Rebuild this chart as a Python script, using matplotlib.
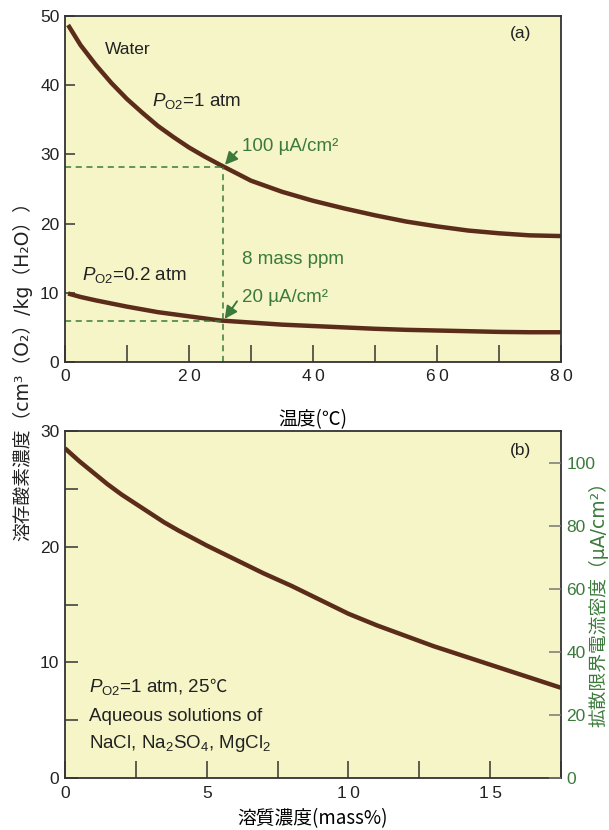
"""
    plot.py
        -- dissolved oxygen in water vs temperature (a) and vs solute content (b)
"""
import matplotlib

matplotlib.use("Agg")
import matplotlib.pyplot as plt
from matplotlib.ticker import MultipleLocator

# (a) oxygen solubility in water, cm3(O2)/kg(H2O)
temp_c = [0.5, 2.5, 5, 7.5, 10, 12.5, 15, 17.5, 20, 22.5, 25, 30, 35, 40,
          45, 50, 55, 60, 65, 70, 75, 80]
o2_1atm = [48.7, 45.8, 42.9, 40.3, 38.0, 36.0, 34.1, 32.5, 31.0, 29.7, 28.5,
           26.2, 24.6, 23.3, 22.2, 21.2, 20.3, 19.6, 19.0, 18.6, 18.3, 18.2]
o2_02atm = [9.9, 9.4, 8.9, 8.45, 8.0, 7.6, 7.2, 6.9, 6.6, 6.3, 6.0, 5.7, 5.4,
            5.2, 5.0, 4.8, 4.65, 4.55, 4.45, 4.35, 4.3, 4.3]

# 8 mass ppm guide at 25.5 C
guide_t = 25.5
guide_hi = 28.2
guide_lo = 5.9

# (b) 1 atm, 25 C, salt solutions
solute_pct = [0, 0.5, 1, 1.5, 2, 2.5, 3, 3.5, 4, 5, 6, 7, 8, 9, 10, 11, 12,
              13, 14, 15, 16, 17, 17.5]
o2_salt = [28.5, 27.4, 26.4, 25.4, 24.5, 23.7, 22.9, 22.1, 21.4, 20.1, 18.9,
           17.7, 16.6, 15.4, 14.2, 13.2, 12.3, 11.4, 10.6, 9.8, 9.0, 8.2, 7.8]

a_xticks = [0, 20, 40, 60, 80]
b_xticks = [0, 5, 10, 15]

BG = "#f5f5c8"
LINE = "#5b2c1a"
GREEN = "#3b7a3b"
EDGE = "#333333"
LATIN = ["Liberation Sans", "DejaVu Sans"]
JP = ["Noto Sans CJK JP", "DejaVu Sans"]
MIXED = ["DejaVu Sans", "Noto Sans CJK JP"]

plt.rcParams["font.family"] = LATIN
plt.rcParams["mathtext.fontset"] = "custom"
plt.rcParams["mathtext.rm"] = "Liberation Sans"
plt.rcParams["mathtext.it"] = "Liberation Sans:italic"
plt.rcParams["font.size"] = 12.5
plt.rcParams["text.color"] = "#222222"

fig = plt.figure(figsize=(6.09, 8.30), dpi=100)
ax1 = fig.add_axes([65 / 609, 1 - 362 / 830, 496 / 609, 346 / 830])
ax2 = fig.add_axes([65 / 609, 1 - 778 / 830, 496 / 609, 347 / 830])


def spaced(v):
    return "\u2009".join(str(v))


def style(ax):
    ax.set_facecolor(BG)
    for s in ax.spines.values():
        s.set_color(EDGE)
        s.set_linewidth(1.3)
    ax.tick_params(which="both", direction="in", color=EDGE, width=1.1,
                   labelsize=12.5, labelcolor="#222222")


PO2 = "$P_{\\mathrm{O2}}$"

# ---- (a)
style(ax1)
ax1.plot(temp_c, o2_1atm, color=LINE, lw=3.2, solid_capstyle="butt")
ax1.plot(temp_c, o2_02atm, color=LINE, lw=3.2, solid_capstyle="butt")
ax1.plot([0, guide_t], [guide_hi, guide_hi], color=GREEN, lw=1.1, ls=(0, (4, 3)))
ax1.plot([0, guide_t], [guide_lo, guide_lo], color=GREEN, lw=1.1, ls=(0, (4, 3)))
ax1.plot([guide_t, guide_t], [0, guide_hi], color=GREEN, lw=1.1, ls=(0, (4, 3)))
ax1.set_xlim(0, 80)
ax1.set_ylim(0, 50)
ax1.set_xticks(a_xticks)
ax1.set_xticklabels([spaced(v) for v in a_xticks])
ax1.xaxis.set_minor_locator(MultipleLocator(10))
ax1.tick_params(axis="x", which="both", length=12, pad=5)
ax1.tick_params(axis="y", length=7, pad=4)
ax1.set_xlabel("温度(℃)", family=JP, fontsize=13.5, labelpad=18)

ax1.text(6.4, 45.1, "Water", va="center", fontsize=12.5)
ax1.text(14.0, 37.7, PO2 + "=1 atm", va="center", fontsize=13.5)
ax1.text(2.8, 12.6, PO2 + "=0.2 atm", va="center", fontsize=13.5)
ax1.text(73.4, 47.4, "(a)", ha="center", va="center", fontsize=12.5)
ax1.text(28.6, 31.2, "100 µA/cm²", color=GREEN, va="center", fontsize=13.5)
ax1.text(28.5, 14.8, "8 mass ppm", color=GREEN, va="center", fontsize=13.5)
ax1.text(28.5, 9.3, "20 µA/cm²", color=GREEN, va="center", fontsize=13.5)
arrow = dict(arrowstyle="-|>,head_length=0.6,head_width=0.3", color=GREEN, lw=1.4)
ax1.annotate("", xy=(guide_t, guide_hi), xytext=(28.0, 30.7), arrowprops=arrow)
ax1.annotate("", xy=(guide_t, guide_lo), xytext=(28.0, 9.1), arrowprops=arrow)

# ---- (b)
style(ax2)
ax2.plot(solute_pct, o2_salt, color=LINE, lw=3.2, solid_capstyle="butt")
ax2.set_xlim(0, 17.5)
ax2.set_ylim(0, 30)
ax2.set_xticks(b_xticks)
ax2.set_xticklabels([spaced(v) for v in b_xticks])
ax2.xaxis.set_minor_locator(MultipleLocator(2.5))
ax2.yaxis.set_major_locator(MultipleLocator(10))
ax2.yaxis.set_minor_locator(MultipleLocator(5))
ax2.tick_params(axis="x", which="both", length=12, pad=6)
ax2.tick_params(axis="y", which="both", length=9, pad=4)
ax2.set_xlabel("溶質濃度(mass%)", family=JP, fontsize=13.5, labelpad=5)

ax2.text(16.06, 28.35, "(b)", ha="center", va="center", fontsize=12.5)
cond = ax2.text(0.83, 7.9, PO2 + "=1 atm, 25", va="center", fontsize=13.5)
ax2.annotate("℃", xy=(1, 0.5), xycoords=cond, va="center", ha="left",
             fontsize=12.5, family=JP)
ax2.text(0.83, 5.35, "Aqueous solutions of", va="center", fontsize=13.5)
ax2.text(0.83, 3.0, "NaCl, Na$_2$SO$_4$, MgCl$_2$", va="center", fontsize=13.5)

# diffusion-limited current density on the right
ax3 = ax2.twinx()
ax3.set_ylim(0, 110)
ax3.yaxis.set_major_locator(MultipleLocator(20))
for s in ax3.spines.values():
    s.set_visible(False)
ax3.tick_params(axis="y", direction="in", length=9, color="#777777", width=1.1,
                labelsize=12.5, labelcolor=GREEN, pad=4)

fig.text(22 / 609, 1 - 367 / 830, "溶存酸素濃度（cm³（O₂）/kg（H₂O））",
         rotation=90, ha="center", va="center", fontsize=13.5, family=MIXED)
fig.text(599 / 609, 1 - 600 / 830, "拡散限界電流密度（µA/cm²）",
         rotation=90, ha="center", va="center", fontsize=13.5, family=MIXED,
         color=GREEN)

fig.savefig("out.png", dpi=100)
